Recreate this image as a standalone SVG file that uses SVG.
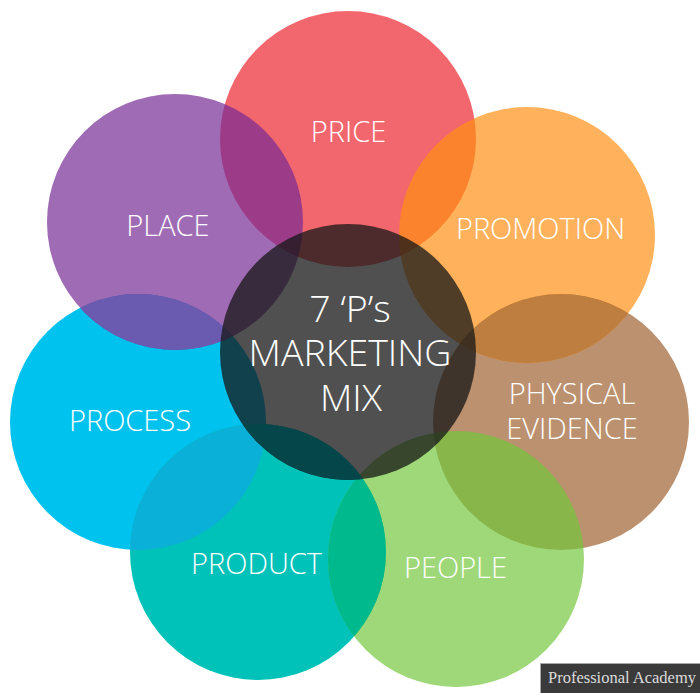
<svg xmlns="http://www.w3.org/2000/svg" width="700" height="693" viewBox="0 0 700 693">
<style>
.c{fill-opacity:.69}
.l{font-family:"Open Sans","Noto Sans","Liberation Sans",sans-serif;font-weight:300;font-size:29px;fill:#fff;text-anchor:middle}
.m{font-size:37.5px}
</style>
<defs>
<clipPath id="cProcess"><circle cx="138" cy="422" r="128"/></clipPath>
<clipPath id="cProduct"><circle cx="258" cy="552" r="128"/></clipPath>
<clipPath id="cPromotion"><circle cx="527" cy="235" r="128"/></clipPath>
<clipPath id="cCenter"><circle cx="348" cy="352" r="128"/></clipPath>
</defs>
<rect width="700" height="693" fill="#fff"/>
<g id="process"><circle cx="138" cy="422" r="128" fill="#00C2EF"/></g>
<g id="price"><circle class="c" cx="348" cy="139" r="128" fill="#EC232D"/></g>
<g id="product"><circle cx="258" cy="552" r="128" fill="#00C2B8"/></g>
<g id="physical-evidence"><circle class="c" cx="561" cy="422" r="128" fill="#9C5F2F"/></g>
<g id="people"><circle class="c" cx="456" cy="559" r="128" fill="#72C63B"/></g>
<g id="promotion"><circle class="c" cx="527" cy="235" r="128" fill="#FF8F11"/></g>
<g id="place"><circle class="c" cx="175" cy="222" r="128" fill="#752994"/></g>
<g id="overlaps">
<circle cx="138" cy="422" r="128" fill="#0BB0D8" clip-path="url(#cProduct)"/>
<circle cx="456" cy="559" r="128" fill="#00B98C" clip-path="url(#cProduct)"/>
<circle cx="175" cy="222" r="128" fill="#6B5BB0" clip-path="url(#cProcess)"/>
<circle cx="561" cy="422" r="128" fill="#BD7E40" clip-path="url(#cPromotion)"/>
</g>
<g id="center"><circle cx="348" cy="352" r="128" fill="#151515" fill-opacity=".75"/>
<circle cx="258" cy="552" r="128" fill="#04464A" clip-path="url(#cCenter)"/></g>
<g id="labels">
<text class="l" x="130" y="431">PROCESS</text>
<text class="l" x="348.5" y="142">PRICE</text>
<text class="l" x="256.5" y="574">PRODUCT</text>
<text class="l" x="572"><tspan x="572" y="404">PHYSICAL</tspan><tspan x="572" y="439">EVIDENCE</tspan></text>
<text class="l" x="455.5" y="578">PEOPLE</text>
<text class="l" x="540.5" y="239">PROMOTION</text>
<text class="l" x="168" y="236">PLACE</text>
<text class="l m" x="350"><tspan x="350" y="322">7 ‘P’s</tspan><tspan x="350" y="366">MARKETING</tspan><tspan x="351" y="411">MIX</tspan></text>
</g>
<g id="watermark"><rect x="540.5" y="663.5" width="160" height="30" fill="#3A3A3A" stroke="#A8A8A8" stroke-width="1"/><text x="548" y="683" font-family="Liberation Serif,serif" font-size="16.5" fill="#DDD">Professional Academy</text></g>
</svg>
